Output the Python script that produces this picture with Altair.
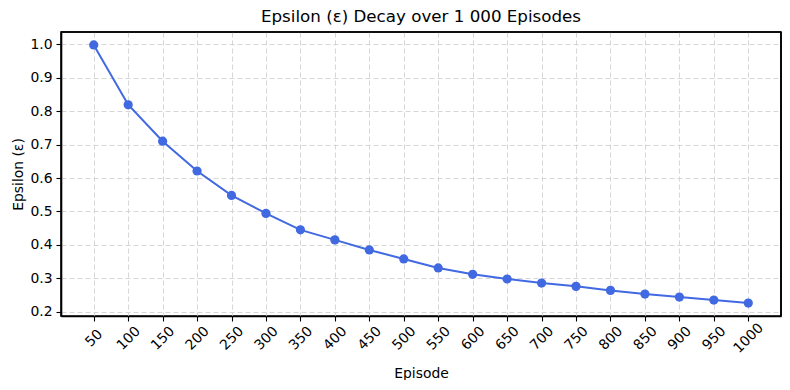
import altair as alt
import pandas as pd

episodes = [50, 100, 150, 200, 250, 300, 350, 400, 450, 500,
            550, 600, 650, 700, 750, 800, 850, 900, 950, 1000]
epsilon = [0.998, 0.819, 0.710, 0.621, 0.548, 0.494, 0.445, 0.415, 0.385, 0.358,
           0.331, 0.312, 0.298, 0.286, 0.276, 0.264, 0.253, 0.244, 0.235, 0.226]
y_ticks = [0.2, 0.3, 0.4, 0.5, 0.6, 0.7, 0.8, 0.9, 1.0]

df = pd.DataFrame({"Episode": episodes, "Epsilon": epsilon})

FONT = "DejaVu Sans"
COLOR = "#4169E1"
W, H = 720, 284
FW = 1.6

x_enc = alt.X(
    "Episode:Q",
    scale=alt.Scale(domain=[2.5, 1047.5], nice=False, zero=False),
    axis=alt.Axis(
        values=episodes, title="Episode", labelAngle=315, labelAlign="center",
        labelBaseline="middle", labelPadding=17, tickSize=5, tickColor="black",
        tickWidth=1.1,
        labelFont=FONT, labelFontSize=13.9, labelColor="black", titleFont=FONT,
        titleFontSize=13.9, titleFontWeight="normal", titleColor="black",
        titleY=61, titleBaseline="alphabetic", labelOverlap=False,
        labelFlush=False, grid=True, gridColor="#d6d6d6", gridDash=[5, 3],
        gridWidth=1, domain=True, domainColor="#000000", domainWidth=FW,
        format="d",
    ),
)
y_enc = alt.Y(
    "Epsilon:Q",
    scale=alt.Scale(domain=[0.1874, 1.0366], nice=False, zero=False),
    axis=alt.Axis(
        values=y_ticks, title="Epsilon (ε)", tickSize=5, tickColor="black",
        tickWidth=1.1,
        labelPadding=4, labelFont=FONT, labelFontSize=13.9, labelColor="black",
        titleFont=FONT, titleFontSize=13.9, titleFontWeight="normal",
        titleColor="black", titleX=-39, titleBaseline="alphabetic",
        grid=True, gridColor="#d6d6d6", gridDash=[5, 3], gridWidth=1,
        domain=True, domainColor="#000000", domainWidth=FW, format=".1f",
    ),
)

base = alt.Chart(df).encode(x=x_enc, y=y_enc)
line = base.mark_line(color=COLOR, strokeWidth=2)
pts = base.mark_point(color=COLOR, filled=True, opacity=1, size=85, shape="circle")

one = alt.Data(values=[{"a": 1}])
top_rule = alt.Chart(one).mark_rule(color="#000000", strokeWidth=FW).encode(
    x=alt.value(0), x2=alt.value(W), y=alt.value(0))
right_rule = alt.Chart(one).mark_rule(color="#000000", strokeWidth=FW).encode(
    x=alt.value(W), y=alt.value(0), y2=alt.value(H))

chart = (line + pts + top_rule + right_rule).properties(
    width=W, height=H,
    title=alt.TitleParams(
        "Epsilon (ε) Decay over 1 000 Episodes", font=FONT, fontSize=16.7,
        fontWeight="normal", color="black", anchor="middle", offset=6,
    ),
    autosize=alt.AutoSizeParams(type="none"),
    padding={"left": 53, "top": 24, "right": 1, "bottom": 64},
).configure(background="white").configure_view(stroke="#000000", strokeWidth=FW)

chart.save("out.html", embed_options={"renderer": "svg", "actions": False})
